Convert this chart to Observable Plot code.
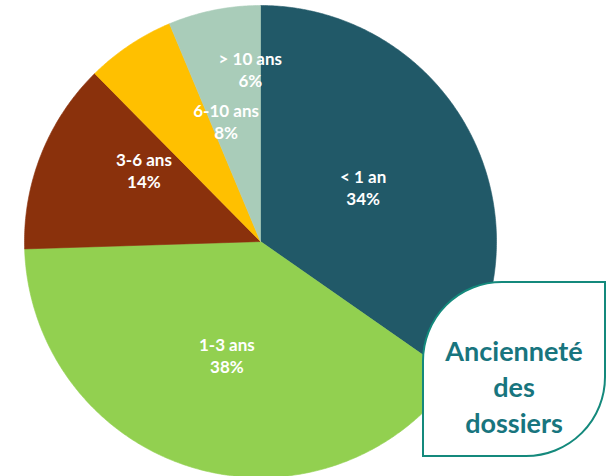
<!DOCTYPE html>
<html>
<head>
<meta charset="utf-8">
<script src="https://cdn.jsdelivr.net/npm/d3@7"></script>
<script src="https://cdn.jsdelivr.net/npm/@observablehq/plot@0.6"></script>
<style>
  html, body { margin: 0; padding: 0; background: #fff; }
  #wrap { position: relative; width: 608px; height: 476px; overflow: hidden; }
  #box {
    position: absolute; left: 422px; top: 281px; width: 184px; height: 176px;
    box-sizing: border-box; border: 2.5px solid #14897c; background: #fff;
    border-radius: 80px 0 80px 0;
    font-family: Lato, "Open Sans", sans-serif; font-weight: 700; font-size: 27px;
    color: #18757e; text-align: center; line-height: 36px;
    padding-top: 50px;
  }
</style>
</head>
<body>
<div id="wrap"><div id="box"><div>Ancienneté</div><div>des</div><div>dossiers</div></div></div>
<script>
// Categories, clockwise from 12 o'clock
const categories = ["< 1 an", "1-3 ans", "3-6 ans", "6-10 ans", "> 10 ans"];
// Slice sizes as drawn in the picture (%)
const sliceValues = [34.7, 39.8, 13.1, 6.1, 6.3];
// Percentage labels as printed
const pctLabels = ["34%", "38%", "14%", "8%", "6%"];
const colors = ["#215968", "#92d050", "#8a310c", "#ffc000", "#a9ccb9"];
// label nudges (px) from mid-angle anchor
const labelNudge = [[-2, 0], [0, 0], [-7, -28], [31, -22], [13, -57]];

const total = d3.sum(sliceValues);
let acc = 0;
const slices = categories.map((c, i) => {
  const a0 = acc / total * 2 * Math.PI;
  acc += sliceValues[i];
  const a1 = acc / total * 2 * Math.PI;
  return {name: c, a0, a1, mid: (a0 + a1) / 2, pct: pctLabels[i], i};
});

const pts = [];
for (const s of slices) {
  pts.push({name: s.name, x: 0, y: 0});
  const n = Math.max(2, Math.ceil((s.a1 - s.a0) / (Math.PI / 360)));
  for (let k = 0; k <= n; k++) {
    const a = s.a0 + (s.a1 - s.a0) * k / n;
    pts.push({name: s.name, x: Math.sin(a), y: Math.cos(a)});
  }
  pts.push({name: s.name, x: 0, y: 0});
}

const labelMarks = slices.map(s => Plot.text([s], {
  x: d => 0.5 * Math.sin(d.mid),
  y: d => 0.5 * Math.cos(d.mid),
  text: d => d.name + "\n" + d.pct,
  dx: labelNudge[s.i][0], dy: labelNudge[s.i][1],
  fill: "white", fontSize: 17, fontWeight: 700, lineHeight: 1.3,
  fontFamily: "Lato, 'Open Sans', sans-serif", textAnchor: "middle"
}));

const chart = Plot.plot({
  width: 608, height: 476,
  margin: 0,
  x: {domain: [-1, 1], range: [24, 496], axis: null},
  y: {domain: [-1, 1], range: [477, 5], axis: null},
  color: {type: "ordinal", domain: categories, range: colors},
  style: {background: "transparent", overflow: "visible"},
  marks: [
    Plot.line(pts, {x: "x", y: "y", z: "name", fill: "name", stroke: "name", strokeWidth: 0.6, curve: "linear"}),
    ...labelMarks
  ]
});
document.getElementById("wrap").insertBefore(chart, document.getElementById("box"));
</script>
</body>
</html>
